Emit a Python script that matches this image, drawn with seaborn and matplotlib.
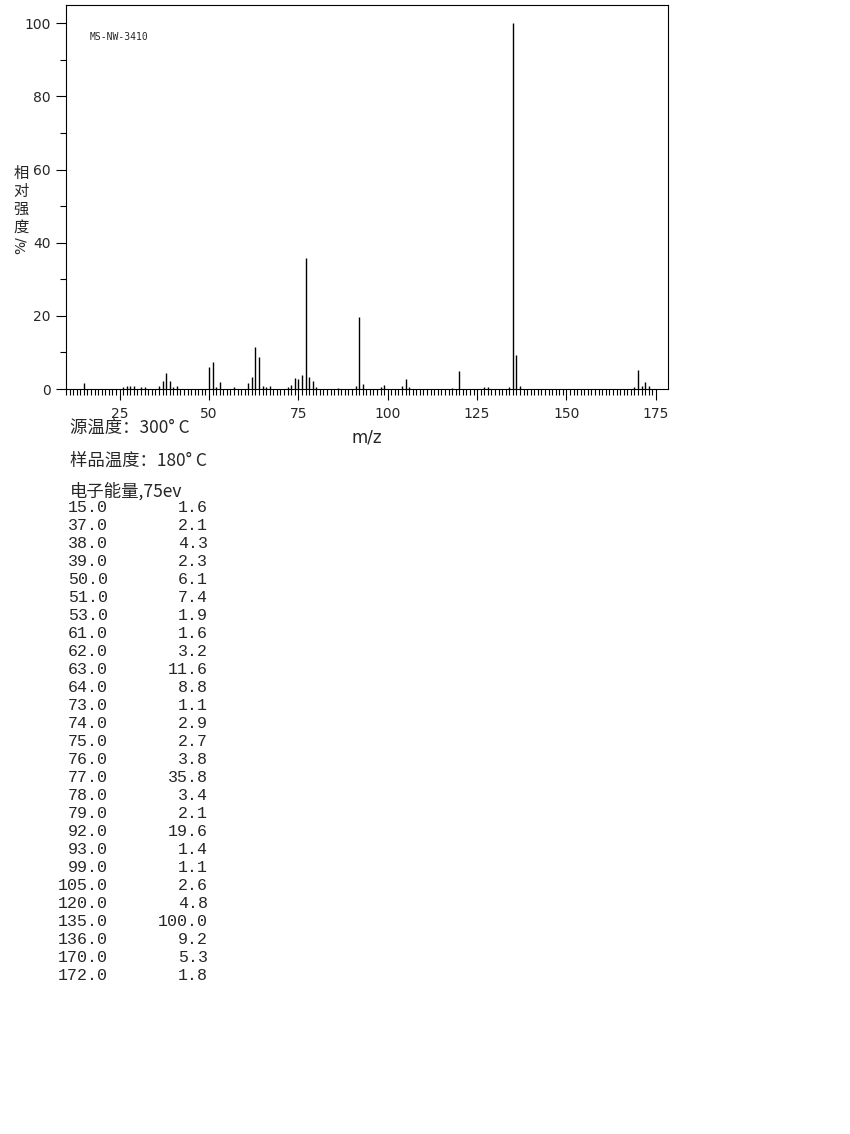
import numpy as np
import matplotlib
matplotlib.use('Agg')
import matplotlib.pyplot as plt
import seaborn as sns
from matplotlib.ticker import MultipleLocator, FixedLocator

# 质谱数据（列表中的峰）
mz = [15, 37, 38, 39, 50, 51, 53, 61, 62, 63, 64, 73, 74, 75, 76, 77, 78, 79,
      92, 93, 99, 105, 120, 135, 136, 170, 172]
intensity = [1.6, 2.1, 4.3, 2.3, 6.1, 7.4, 1.9, 1.6, 3.2, 11.6, 8.8, 1.1, 2.9, 2.7,
             3.8, 35.8, 3.4, 2.1, 19.6, 1.4, 1.1, 2.6, 4.8, 100.0, 9.2, 5.3, 1.8]

# 图中可见但未列出的小峰（估计值）
small_mz = [26, 27, 28, 29, 31, 32, 36, 40, 41, 52, 57, 65, 66, 67, 72, 80, 86,
            91, 98, 104, 106, 118, 127, 128, 134, 137, 169, 171, 173]
small_int = [0.6, 0.9, 0.9, 0.8, 0.5, 0.5, 0.7, 0.6, 0.9, 0.6, 0.5, 0.7, 0.6, 0.8,
             0.5, 0.5, 0.4, 0.7, 0.5, 0.8, 0.6, 0.4, 0.6, 0.6, 0.5, 0.9, 0.5, 0.9, 0.7]

header_lines = ['源温度：300° C', '样品温度：180° C', '电子能量,75ev']
sample_id = 'MS-NW-3410'

sns.set_theme(style='ticks')
plt.rcParams['font.family'] = ['DejaVu Sans', 'Noto Sans CJK SC']
cjk = ['Noto Sans CJK SC', 'DejaVu Sans']

W, H = 850, 1134
fig = plt.figure(figsize=(W / 100, H / 100), dpi=100)
fig.patch.set_facecolor('white')


def px(x, y):
    return x / W, 1 - y / H


ax = fig.add_axes([66 / W, 1 - 389 / H, (668 - 66) / W, (389 - 5) / H])
ax.set_facecolor('white')

all_mz = mz + small_mz
all_int = intensity + small_int
ax.vlines(all_mz, 0, all_int, colors='black', linewidth=1.0)

ax.set_xlim(10, 178.4)
ax.set_ylim(0, 105)
ax.xaxis.set_major_locator(MultipleLocator(25))
ax.xaxis.set_minor_locator(FixedLocator(np.arange(10, 176)))
ax.yaxis.set_major_locator(MultipleLocator(20))
ax.yaxis.set_minor_locator(MultipleLocator(10))
ax.tick_params(axis='x', which='major', length=8, width=0.8, color='black',
               labelsize=10, pad=5, direction='out')
ax.tick_params(axis='x', which='minor', length=4.5, width=0.8, color='black',
               direction='out')
ax.tick_params(axis='y', which='major', length=7, width=0.8, color='black',
               labelsize=10, pad=4, direction='out')
ax.tick_params(axis='y', which='minor', length=4, width=0.8, color='black',
               direction='out')
for s in ax.spines.values():
    s.set_linewidth(0.8)
    s.set_color('black')
ax.grid(False)

ax.text(0.04, 0.917, sample_id, transform=ax.transAxes, fontsize=7,
        family='DejaVu Sans Mono', va='center', ha='left')

# 坐标轴标题
fig.text(*px(367, 437), 'm/z', fontsize=12, ha='center', va='center')
for i, ch in enumerate('相对强度'):
    fig.text(*px(21, 173 + i * 18), ch, fontsize=11, family=cjk,
             ha='center', va='center')
fig.text(*px(21, 245), '%/', fontsize=10, rotation=90, ha='center', va='center')

# 实验条件
for y, line in zip([429, 461, 491], header_lines):
    fig.text(*px(70, y), line, fontsize=12.5, family=cjk, ha='left', va='center')

# 峰表
for i, (m, v) in enumerate(zip(mz, intensity)):
    y = 508 + i * 18
    fig.text(*px(108, y), f'{m:.1f}', fontsize=12, family='Liberation Mono',
             ha='right', va='center')
    fig.text(*px(208, y), f'{v:.1f}', fontsize=12, family='Liberation Mono',
             ha='right', va='center')

fig.savefig('out.png', dpi=100, facecolor='white')
